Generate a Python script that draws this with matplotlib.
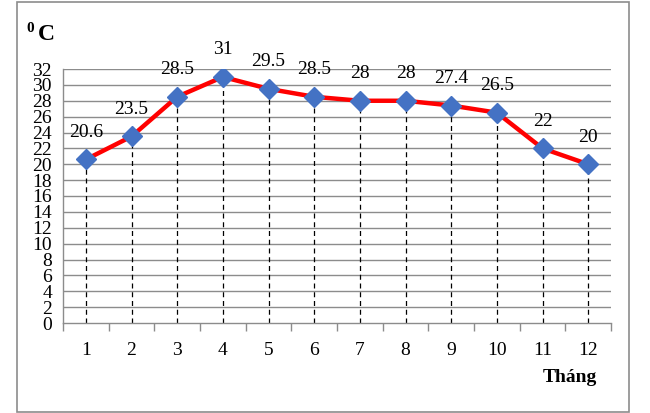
import matplotlib.pyplot as plt
from matplotlib.patches import Rectangle

months = [1, 2, 3, 4, 5, 6, 7, 8, 9, 10, 11, 12]
temps = [20.6, 23.5, 28.5, 31, 29.5, 28.5, 28, 28, 27.4, 26.5, 22, 20]
labels = ["20.6", "23.5", "28.5", "31", "29.5", "28.5", "28", "28", "27.4", "26.5", "22", "20"]
yticks = list(range(0, 33, 2))

plt.rcParams['font.family'] = ['Liberation Serif', 'DejaVu Serif']

fig = plt.figure(figsize=(6.5, 4.13), dpi=100)
fig.patches.append(Rectangle((17 / 650, 1 - 412 / 413), 612 / 650, 410 / 413,
	transform=fig.transFigure, fill=False, edgecolor="#8c8c8c", linewidth=1.2))

ax = fig.add_axes([63 / 650, 1 - 323 / 413, 548 / 650, 254 / 413])

grid_c = "#8c8c8c"
for y in yticks[1:]:
	ax.axhline(y, color=grid_c, linewidth=1, zorder=1)

for m, t in zip(months, temps):
	ax.plot([m, m], [0, t], color="black", linestyle=(0, (4, 3)), linewidth=0.9, zorder=2)

ax.plot(months, temps, color="#ff0000", linewidth=3.2, zorder=3)
ax.plot(months, temps, linestyle="none", marker="D", markersize=10.5,
	color="#4472c4", zorder=4)

for m, t, lab in zip(months, temps, labels):
	ax.annotate(lab, (m, t), xytext=(0, 19.5), textcoords="offset points",
		ha="center", va="center", fontsize=14)

ax.set_xlim(0.5, 12.5)
ax.set_ylim(0, 32)
ax.set_yticks(yticks)
ax.set_yticklabels([str(v) for v in yticks], fontsize=14)
ax.tick_params(axis="y", length=0, pad=8)
ax.set_xticks(months)
ax.set_xticklabels([str(m) for m in months], fontsize=14)
ax.set_xticks([m + 0.5 for m in [0] + months], minor=True)
ax.tick_params(axis="x", which="major", length=0, pad=14)
ax.tick_params(axis="x", which="minor", length=6, color=grid_c, width=1)

for s in ["top", "right"]:
	ax.spines[s].set_visible(False)
for s in ["left", "bottom"]:
	ax.spines[s].set_color(grid_c)
	ax.spines[s].set_linewidth(1)

fig.text(26 / 650, 1 - 28 / 413, "0", fontsize=11, fontweight="bold", ha="left", va="center")
fig.text(38 / 650, 1 - 35 / 413, "C", fontsize=17, fontweight="bold", ha="left", va="center")
fig.text(570 / 650, 1 - 377 / 413, "Tháng", fontsize=14, fontweight="bold", ha="center", va="center")

fig.savefig("out.png", dpi=100)
